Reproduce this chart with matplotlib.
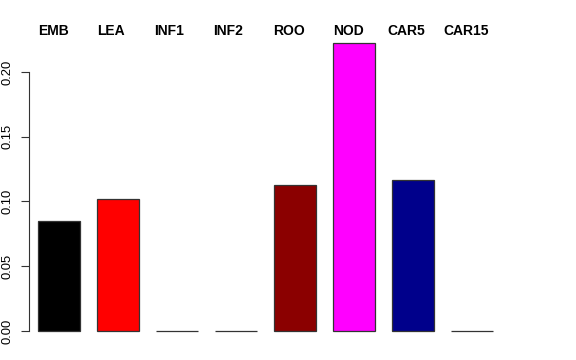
import numpy as np
import matplotlib.pyplot as plt

# Data
labels = ['EMB', 'LEA', 'INF1', 'INF2', 'ROO', 'NOD', 'CAR5', 'CAR15']
values = [0.0852, 0.1023, 0.0, 0.0, 0.1131, 0.2221, 0.1167, 0.0]
colors = ['#000000', '#ff0000', '#000000', '#000000', '#8b0000', '#ff00ff', '#00008b', '#000000']
yticks = [0.00, 0.05, 0.10, 0.15, 0.20]

# Layout (pixels)
W, H = 576, 360
px_per_unit = 42.0      # bar width in px
y0_px, scale_y = 331, 1295.0
label_x_px = [37.7, 97, 154, 213, 273, 333, 387, 443]

plt.rcParams['font.family'] = ['Liberation Sans', 'DejaVu Sans']
fig = plt.figure(figsize=(W / 100, H / 100), dpi=100)

x = np.arange(len(values)) * 1.405
left_px, right_px = 29, 502
top_px = y0_px - scale_y * max(values)
ax = fig.add_axes([left_px / W, 1 - y0_px / H, (right_px - left_px) / W, (y0_px - top_px) / H])
bars = ax.bar(x, values, width=1.0, color=colors, edgecolor='#333333', linewidth=0.9)
for b in bars:
    b.set_clip_on(False)
ax.set_xlim(-30 / px_per_unit, x[-1] + 30 / px_per_unit)
ax.set_ylim(0, max(values))

for s in ['top', 'right', 'bottom']:
    ax.spines[s].set_visible(False)
ax.spines['left'].set_bounds(yticks[0], yticks[-1])
ax.spines['left'].set_color('#333333')
ax.set_xticks([])
ax.set_yticks(yticks)
ax.set_yticklabels(['%.2f' % t for t in yticks], rotation=90, va='center', fontsize=9.4)
ax.tick_params(axis='y', length=5.5, width=0.8, pad=6, color='#333333')

for lx, lab in zip(label_x_px, labels):
    fig.text(lx / W, 1 - 35 / H, lab, ha='left', va='baseline', fontsize=10, fontweight='bold')

fig.savefig('out.png', dpi=100)
